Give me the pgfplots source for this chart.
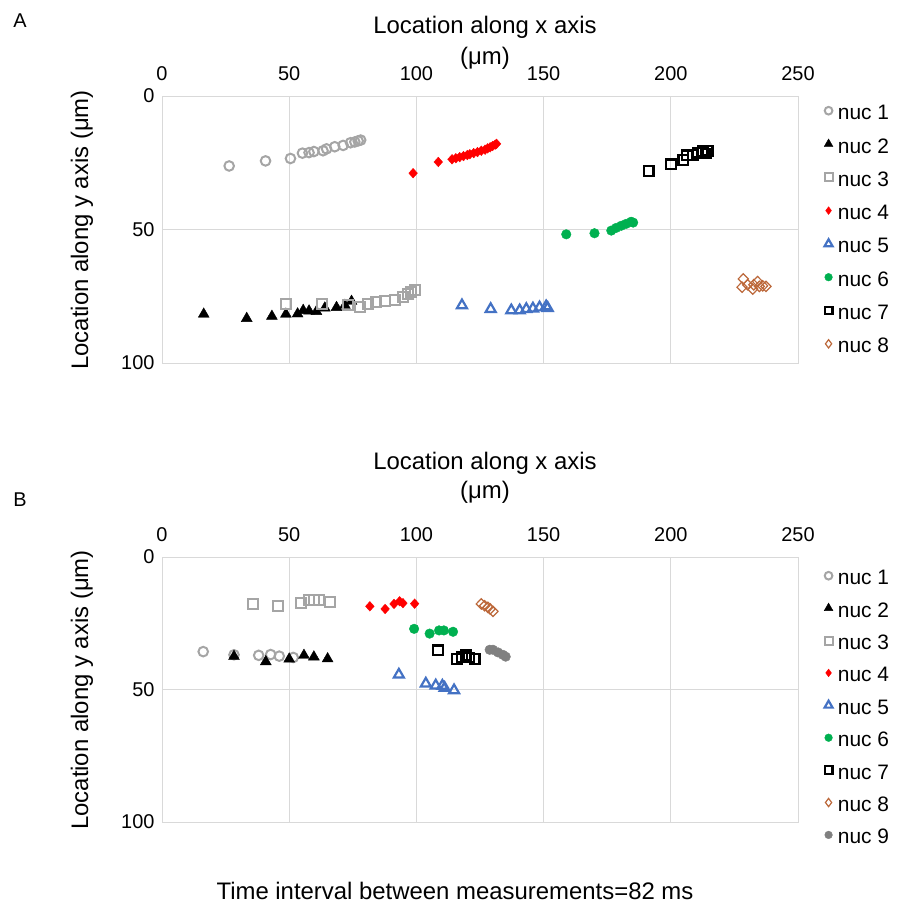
\documentclass[border=0pt]{standalone}
\usepackage{fontspec}
\setmainfont{Liberation Sans}
\usepackage{pgfplots}
\pgfplotsset{compat=1.18}

\definecolor{gridgray}{RGB}{217,217,217}
\definecolor{c1}{RGB}{165,165,165}
\definecolor{c4}{RGB}{255,0,0}
\definecolor{c5}{RGB}{68,114,196}
\definecolor{c6}{RGB}{0,176,80}
\definecolor{c8}{RGB}{188,104,58}
\definecolor{c9}{RGB}{128,128,128}

\pgfplotsset{
  nuc1/.style={only marks, mark=o, color=c1, line width=2bp, mark size=4.8bp},
  nuc2/.style={only marks, mark=triangle*, color=black, mark size=6.3bp},
  nuc3/.style={only marks, mark=square, color=c1, line width=2bp, mark size=5bp},
  nuc4/.style={only marks, mark=diamond*, color=c4, mark size=4.8bp, mark options={xscale=1.2}},
  nuc5/.style={only marks, mark=triangle, color=c5, line width=2.2bp, mark size=5.8bp},
  nuc6/.style={only marks, mark=*, color=c6, mark size=4.8bp},
  nuc7/.style={only marks, mark=square, color=black, line width=2.2bp, mark size=4.8bp},
  nuc8/.style={only marks, mark=diamond, color=c8, line width=1.2bp, mark size=5.2bp, mark options={xscale=1.3}},
  nuc9/.style={only marks, mark=*, color=c9, mark size=4.8bp},
  panel/.style={
    scale only axis, width=636bp,
    xmin=0, xmax=250, ymin=0, ymax=100, y dir=reverse,
    xtick={0,50,...,250}, ytick={0,50,100},
    xticklabel pos=top,
    grid=major, major grid style={gridgray, line width=1bp},
    axis line style={gridgray, line width=1bp},
    tick style={draw=none},
    /pgf/number format/assume math mode=true,
    tick label style={font=\fontsize{20}{24}\selectfont},
    xticklabel style={yshift=12bp},
    yticklabel style={xshift=-4bp},
    legend cell align=left,
    legend style={draw=none, fill=none, inner sep=0pt, at={(1,1)}, anchor=north west,
      xshift=26bp, font=\fontsize{21}{25}\selectfont,
      nodes={inner xsep=0pt, inner ysep=0pt, text height=15bp, text depth=4bp},
      /tikz/every odd column/.append style={column sep=5bp}},
    legend image code/.code={\draw[##1, mark repeat=2, mark phase=2, mark options={scale=0.8}] plot coordinates {(0bp,3.5bp)(6bp,3.5bp)(12bp,3.5bp)};},
  },
}

\begin{document}
\begin{tikzpicture}[x=1bp,y=1bp]
\useasboundingbox (0,0) rectangle (899,-919);

\begin{axis}[panel, height=267bp, at={(162bp,-96bp)}, anchor=north west,
  legend style={yshift=-8.5bp, row sep=14.3bp}]
\addplot[nuc1] coordinates {
(26.4,26.2) (40.7,24.3) (50.5,23.4) (55.2,21.4) (57.8,21.2) (59.7,20.8) (63.3,20.5)
(64.7,19.8) (67.9,19.0) (71.2,18.5) (74.1,17.5) (75.8,17.2) (77.1,16.8) (78.1,16.5)};
\addlegendentry{nuc 1}
\addplot[nuc2] coordinates {
(16.4,81.7) (33.3,83.3) (43.2,82.5) (48.7,81.7) (53.3,81.6) (55.5,80.3) (57.8,80.5)
(60.7,80.7) (64.0,79.4) (68.6,79.2) (71.9,78.4) (74.5,76.9)};
\addlegendentry{nuc 2}
\addplot[nuc3] coordinates {
(48.6,77.8) (62.9,77.8) (73.1,78.2) (77.9,78.9) (81.0,77.9) (84.3,77.3) (87.6,76.8)
(91.5,76.3) (94.7,75.3) (96.7,74.1) (98.0,73.3) (99.3,72.7)};
\addlegendentry{nuc 3}
\addplot[nuc4] coordinates {
(98.7,28.9) (108.6,24.7) (114.0,23.7) (115.5,23.3) (117.0,22.9) (118.5,22.5) (120.0,22.1)
(121.0,21.8) (122.5,21.4) (124.0,21.0) (125.5,20.5) (127.0,20.1) (128.0,19.6) (129.0,19.2)
(130.0,18.7) (131.0,18.2) (131.5,17.9)};
\addlegendentry{nuc 4}
\addplot[nuc5] coordinates {
(117.9,78.4) (129.2,79.8) (137.3,80.3) (140.6,80.3) (143.2,79.8) (145.8,79.6) (148.4,79.2)
(151.0,78.8) (151.6,79.4)};
\addlegendentry{nuc 5}
\addplot[nuc6] coordinates {
(158.9,51.8) (170.0,51.4) (176.6,50.4) (178.5,49.4) (180.5,48.6) (182.4,47.9) (184.4,47.1)
(185.2,47.4)};
\addlegendentry{nuc 6}
\addplot[nuc7] coordinates {
(191.3,28.1) (200.1,25.6) (204.9,23.9) (206.3,22.2) (208.6,22.1) (210.6,21.2) (212.5,20.7)
(214.5,20.5) (213.7,21.5)};
\addlegendentry{nuc 7}
\addplot[nuc8] coordinates {
(228.5,68.5) (228.0,71.6) (230.2,70.7) (232.2,72.3) (234.1,69.5) (234.8,71.3) (236.1,71.1)
(237.4,71.3) (232.6,70.7)};
\addlegendentry{nuc 8}
\end{axis}

\begin{axis}[panel, height=265bp, at={(162bp,-557bp)}, anchor=north west,
  legend style={yshift=-12.5bp, row sep=13.4bp}]
\addplot[nuc1] coordinates {
(16.2,35.7) (28.3,36.9) (38.0,37.1) (42.7,36.8) (46.1,37.4) (51.6,37.9)};
\addlegendentry{nuc 1}
\addplot[nuc2] coordinates {
(28.3,37.5) (40.8,39.5) (50.0,38.5) (55.8,37.1) (59.7,37.7) (65.1,38.4)};
\addlegendentry{nuc 2}
\addplot[nuc3] coordinates {
(35.7,17.6) (45.7,18.3) (54.6,17.2) (57.7,16.4) (59.7,16.4) (61.8,16.4) (66.0,17.0)};
\addlegendentry{nuc 3}
\addplot[nuc4] coordinates {
(81.7,18.6) (87.7,19.6) (91.2,17.7) (93.4,16.7) (94.7,17.4) (99.3,17.6)};
\addlegendentry{nuc 4}
\addplot[nuc5] coordinates {
(93.1,44.4) (103.7,47.8) (107.6,48.5) (110.2,48.6) (111.1,49.4) (114.8,50.3)};
\addlegendentry{nuc 5}
\addplot[nuc6] coordinates {
(99.1,27.1) (105.2,28.9) (108.9,27.7) (110.8,27.7) (114.4,28.2)};
\addlegendentry{nuc 6}
\addplot[nuc7] coordinates {
(108.5,35.2) (115.9,38.5) (117.9,37.7) (119.6,37.1) (120.6,37.9) (122.9,38.5)};
\addlegendentry{nuc 7}
\addplot[nuc8] coordinates {
(125.5,17.7) (126.8,18.4) (128.1,19.0) (129.0,19.6) (130.1,20.5)};
\addlegendentry{nuc 8}
\addplot[nuc9] coordinates {
(128.8,35.0) (130.1,35.0) (132.1,36.0) (134.0,36.9) (135.1,37.6)};
\addlegendentry{nuc 9}
\end{axis}

\begin{scope}[font=\fontsize{24}{28}\selectfont]
\node at (485,-27) {Location along x axis};
\node at (485,-58) {(μm)};
\node[rotate=90] at (82,-230) {Location along y axis (μm)};
\node at (485,-463) {Location along x axis};
\node at (485,-492) {(μm)};
\node[rotate=90] at (82,-690) {Location along y axis (μm)};
\node at (455,-891) {Time interval between measurements=82 ms};
\end{scope}
\node[font=\fontsize{20}{24}\selectfont] at (20,-21) {A};
\node[font=\fontsize{20}{24}\selectfont] at (20,-500) {B};
\end{tikzpicture}
\end{document}
